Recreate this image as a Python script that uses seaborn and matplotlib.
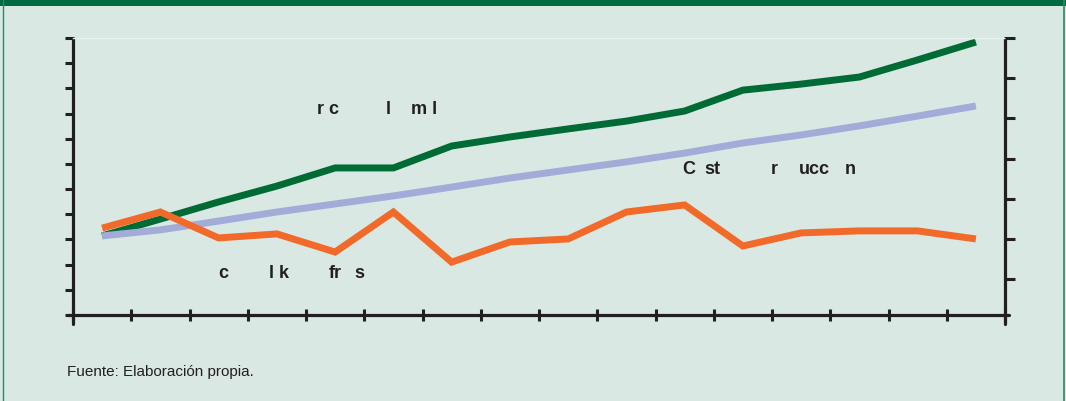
import numpy as np
import pandas as pd
import matplotlib
matplotlib.use("Agg")
import matplotlib.pyplot as plt
from matplotlib.lines import Line2D
from matplotlib.patches import Rectangle
import seaborn as sns

# Data (left axis scale 0-110)
periodos = list(range(16))
precio_metro = [31.4, 38.1, 44.9, 51.2, 58.4, 58.4, 67.1, 70.7, 73.9, 77.0, 81.0, 89.3, 91.7, 94.5, 101.3, 108.4]
costo_construccion = [31.4, 33.8, 37.3, 40.9, 44.1, 47.3, 50.8, 54.4, 57.6, 60.8, 64.3, 68.3, 71.5, 75.1, 79.0, 83.0]
otro_indice = [34.5, 40.9, 30.6, 32.2, 25.0, 40.9, 21.0, 29.0, 30.2, 40.9, 43.7, 27.4, 32.6, 33.4, 33.4, 30.2]

series_names = ["precio", "costo", "otro"]
series_colors = ["#006b35", "#a3acd8", "#f26a2a"]

df = pd.DataFrame({
    "periodo": periodos * 3,
    "valor": precio_metro + costo_construccion + otro_indice,
    "serie": [s for s in series_names for _ in periodos],
})

# Garbled labels as they appear in the reference: (text, x px, y px)
labels = [
    ("r c", 317, 109), ("l", 386, 109), ("m l", 411, 109),
    ("C", 682, 170), ("st", 704, 170), ("r", 771, 170), ("ucc", 799, 170), ("n", 845, 170),
    ("c", 218, 274), ("l", 269, 274), ("k", 279, 274), ("fr", 329, 274), ("s", 354, 274),
]

BG = "#d9e8e2"
DARK = "#231f20"
W, H = 1066, 402
AX_L, AX_R, AX_T, AX_B = 73, 1005, 39, 316

sns.set_style("white")
plt.rcParams["font.family"] = ["Liberation Sans Narrow", "Liberation Sans", "DejaVu Sans"]

fig = plt.figure(figsize=(W / 100, H / 100), dpi=100, facecolor=BG)
ax = fig.add_axes([AX_L / W, (H - AX_B) / H, (AX_R - AX_L) / W, (AX_B - AX_T) / H])
ax.set_facecolor(BG)

sns.lineplot(data=df, x="periodo", y="valor", hue="serie", palette=series_colors,
             linewidth=5, legend=False, ax=ax, solid_capstyle="butt", solid_joinstyle="miter")

ax.set_xlim(-0.5, 15.5)
ax.set_ylim(0, 110)
ax.set_xticks(np.arange(-0.5, 16, 1))
ax.set_yticks(np.arange(0, 111, 10))
ax.set_xticklabels([])
ax.set_yticklabels([])
ax.set_xlabel("")
ax.set_ylabel("")
ax.tick_params(axis="y", direction="out", length=5.5, width=2.2, color=DARK, left=True)
ax.tick_params(axis="x", direction="inout", length=9, width=2.2, color=DARK, bottom=True)

for side in ["left", "right", "bottom"]:
    ax.spines[side].set_visible(False)
ax.spines["top"].set_color("#e8f1ed")
ax.spines["top"].set_linewidth(1)

# axis lines slightly overshooting the plot box
ax.add_line(Line2D([0, 0], [1, -9 / 277], transform=ax.transAxes, color=DARK, lw=2.3, clip_on=False))
ax.add_line(Line2D([1, 1], [1, -9 / 277], transform=ax.transAxes, color=DARK, lw=2.3, clip_on=False))
ax.add_line(Line2D([-5 / 932, 1 + 4 / 932], [0, 0], transform=ax.transAxes, color=DARK, lw=2.3, clip_on=False))

# right axis ticks only
ax2 = ax.twinx()
ax2.set_ylim(0.11, 7)
ax2.set_yticks(np.arange(1, 8, 1))
ax2.set_yticklabels([])
ax2.tick_params(axis="y", direction="out", length=7, width=2.2, color=DARK, right=True)
for side in ["left", "right", "bottom", "top"]:
    ax2.spines[side].set_visible(False)

for txt, px, py in labels:
    ax.text((px - AX_L) / (AX_R - AX_L), (AX_B - py) / (AX_B - AX_T), txt,
            transform=ax.transAxes, ha="left", va="center",
            fontsize=13, fontweight="bold", color=DARK)

fig.text(67 / W, 1 - 372 / H, "Fuente: Elaboración propia.", ha="left", va="center",
         fontsize=11, color=DARK)

# frame: top band and side borders
fig.patches.append(Rectangle((0, 1 - 7 / H), 1, 7 / H, transform=fig.transFigure,
                             facecolor="#006a40", edgecolor="none"))
fig.add_artist(Line2D([3 / W, 3 / W], [0, 1], transform=fig.transFigure, color="#2e8a5e", lw=1))
fig.add_artist(Line2D([1063.5 / W, 1063.5 / W], [0, 1], transform=fig.transFigure, color="#2e8a5e", lw=1.2))

fig.savefig("out.png", dpi=100, facecolor=BG)
